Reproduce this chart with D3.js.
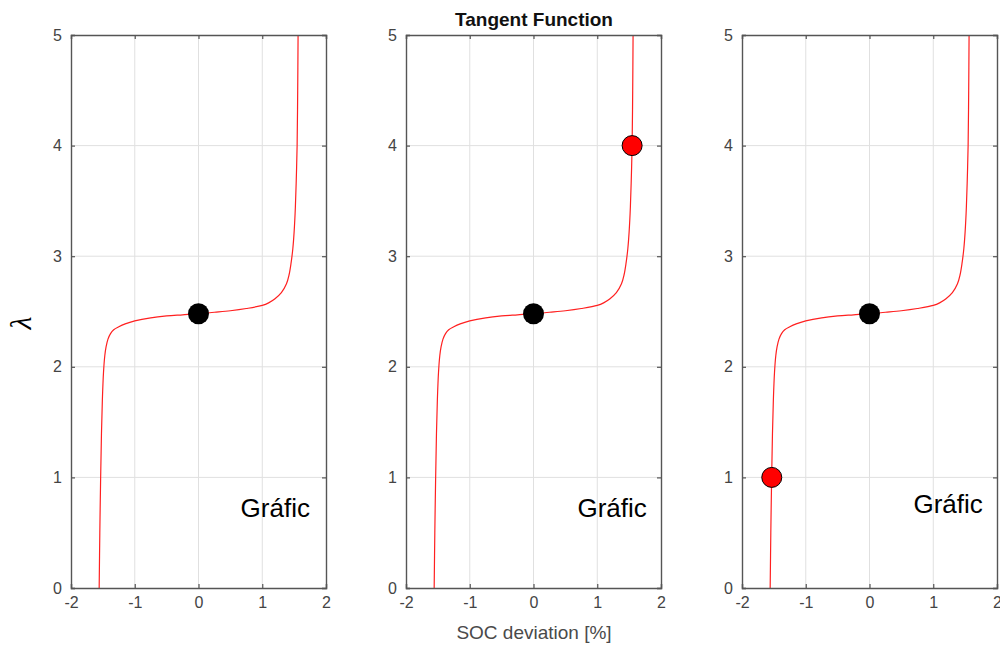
<!DOCTYPE html>
<html>
<head>
<meta charset="utf-8">
<script src="https://cdn.jsdelivr.net/npm/d3@7"></script>
<style>
  body { margin: 0; background: #fff; }
  svg { display: block; font-family: "Liberation Sans", Arial, sans-serif; }
</style>
</head>
<body>
<svg id="chart" width="1000" height="646"></svg>
<script>
// values
var xTicks = [-2, -1, 0, 1, 2]
var yTicks = [0, 1, 2, 3, 4, 5]

// tangent curve, sampled by eye
var curveX = [-1.558, -1.548, -1.535, -1.522, -1.508, -1.49, -1.47, -1.45, -1.42, -1.38, -1.33, -1.25, -1.15, -1.0, -0.75, -0.5, -0.25,
              0, 0.25, 0.5, 0.75, 1.0, 1.1, 1.2, 1.3, 1.38, 1.42, 1.45, 1.48, 1.50, 1.52, 1.535, 1.547, 1.556, 1.562]
var curveY = [0, 0.5, 1.0, 1.4, 1.7, 1.95, 2.1, 2.18, 2.25, 2.30, 2.335, 2.362, 2.388, 2.415, 2.443, 2.46, 2.47,
              2.48, 2.493, 2.507, 2.527, 2.555, 2.578, 2.615, 2.67, 2.75, 2.83, 2.93, 3.07, 3.22, 3.45, 3.72, 4.0, 4.5, 5.0]

var blackX = [0, 0, 0]
var blackY = [2.48, 2.48, 2.48]
var redX = [null, 1.547, -1.533]
var redY = [null, 4, 1]

var panelText = ["Gráfic", "Gráfic", "Gráfic"]
var textX = [0.66, 0.69, 0.69]
var textY = [0.64, 0.64, 0.68]

var dimensions = {
    width: 1000,
    height: 646,
    panelLeft: [71, 406, 742],
    panelWidth: 255,
    top: 35,
    bottom: 588
}

var svg = d3.select("#chart")

var points = curveX.map(function (x, i) { return { x: x, y: curveY[i] } })

var yScale = d3.scaleLinear()
    .domain([0, 5])
    .range([dimensions.bottom, dimensions.top])

dimensions.panelLeft.forEach(function (left, p) {
    var xScale = d3.scaleLinear()
        .domain([-2, 2])
        .range([left, left + dimensions.panelWidth])

    var g = svg.append("g")

    // grid
    g.selectAll(".vgrid")
        .data(xTicks.slice(1, -1))
        .enter()
        .append("line")
        .attr("x1", d => xScale(d)).attr("x2", d => xScale(d))
        .attr("y1", dimensions.top).attr("y2", dimensions.bottom)
        .attr("stroke", "#e0e0e0").attr("stroke-width", 1)
    g.selectAll(".hgrid")
        .data(yTicks.slice(1, -1))
        .enter()
        .append("line")
        .attr("y1", d => yScale(d)).attr("y2", d => yScale(d))
        .attr("x1", left).attr("x2", left + dimensions.panelWidth)
        .attr("stroke", "#e0e0e0").attr("stroke-width", 1)

    // curve
    var line = d3.line()
        .x(d => xScale(d.x))
        .y(d => yScale(d.y))
        .curve(d3.curveCatmullRom.alpha(0.5))
    g.append("path")
        .datum(points)
        .attr("d", line)
        .attr("fill", "none")
        .attr("stroke", "#ff2020")
        .attr("stroke-width", 1.2)

    // axes with inward ticks, box on
    var xAxisGen = d3.axisBottom(xScale).tickValues(xTicks).tickSize(-4).tickPadding(9).tickFormat(d => String(d))
    var yAxisGen = d3.axisLeft(yScale).tickValues(yTicks).tickSize(-4).tickPadding(9).tickFormat(d => String(d))

    g.append("g")
        .attr("transform", "translate(0," + dimensions.bottom + ")")
        .call(xAxisGen)
    g.append("g")
        .attr("transform", "translate(" + left + ",0)")
        .call(yAxisGen)
    g.append("g")
        .attr("transform", "translate(0," + dimensions.top + ")")
        .call(d3.axisTop(xScale).tickValues(xTicks).tickSize(-4).tickFormat(""))
    g.append("g")
        .attr("transform", "translate(" + (left + dimensions.panelWidth) + ",0)")
        .call(d3.axisRight(yScale).tickValues(yTicks).tickSize(-4).tickFormat(""))

    g.selectAll(".domain").attr("stroke", "#555").attr("stroke-width", 1.4)
    g.selectAll(".tick line").attr("stroke", "#555").attr("stroke-width", 1.2)
    g.selectAll(".tick text")
        .attr("fill", "#444")
        .style("font-size", "16px")
        .style("font-family", "Liberation Sans, Arial, sans-serif")

    // dots
    g.append("circle")
        .attr("cx", xScale(blackX[p]))
        .attr("cy", yScale(blackY[p]))
        .attr("r", 10.5)
        .attr("fill", "#000")
    if (redX[p] != null) {
        g.append("circle")
            .attr("cx", xScale(redX[p]))
            .attr("cy", yScale(redY[p]))
            .attr("r", 10)
            .attr("fill", "#ff0000")
            .attr("stroke", "#000")
            .attr("stroke-width", 1)
    }

    g.append("text")
        .attr("x", xScale(textX[p]))
        .attr("y", yScale(textY[p]))
        .attr("fill", "#000")
        .style("font-size", "26px")
        .text(panelText[p])
})

svg.append("text")
    .attr("x", 534)
    .attr("y", 26)
    .attr("text-anchor", "middle")
    .style("font-size", "19px")
    .style("font-weight", "bold")
    .attr("fill", "#111")
    .text("Tangent Function")

svg.append("text")
    .attr("x", 534)
    .attr("y", 639)
    .attr("text-anchor", "middle")
    .style("font-size", "19px")
    .attr("fill", "#4a4a4a")
    .text("SOC deviation [%]")

svg.append("text")
    .attr("transform", "translate(31,323) rotate(-90)")
    .attr("text-anchor", "middle")
    .style("font-family", "Liberation Serif, DejaVu Serif, serif")
    .style("font-style", "italic")
    .style("font-size", "30px")
    .attr("fill", "#000")
    .text("λ")
</script>
</body>
</html>
